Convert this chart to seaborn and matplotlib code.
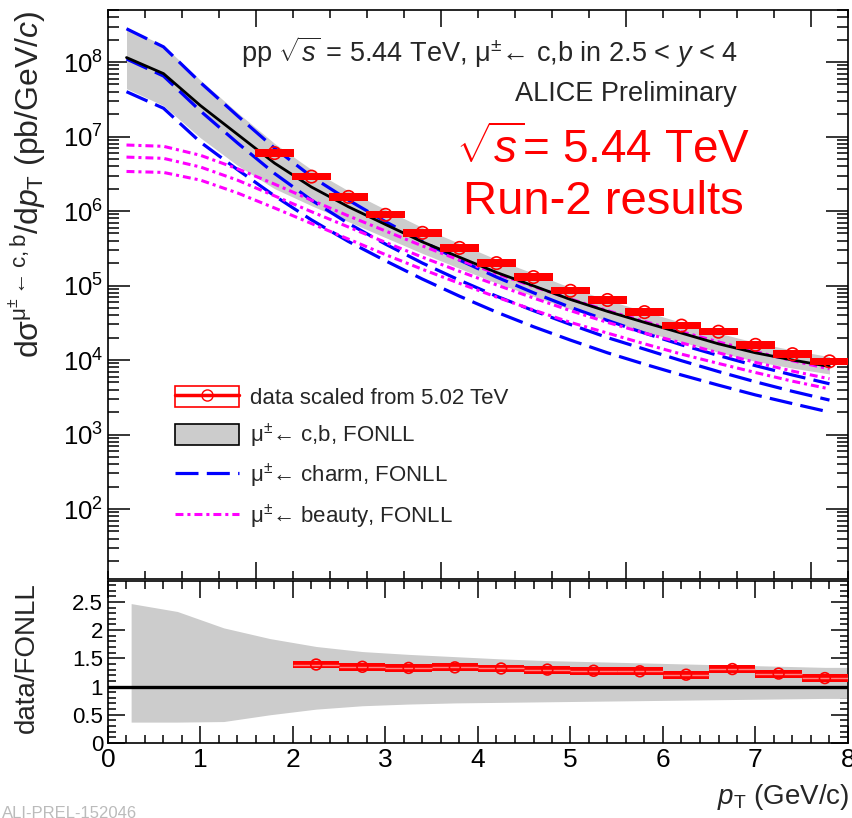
import numpy as np
import matplotlib
matplotlib.use("Agg")
import matplotlib.pyplot as plt
import seaborn as sns
from matplotlib.patches import Rectangle, Patch
from matplotlib.lines import Line2D
from matplotlib.ticker import MultipleLocator, LogLocator, NullFormatter, FixedLocator

# ---------------- data ----------------
# data points (top panel), pT bin centres and values (pb/GeV/c)
data_pt = [1.8, 2.2, 2.6, 3.0, 3.4, 3.8, 4.2, 4.6, 5.0, 5.4, 5.8, 6.2, 6.6, 7.0, 7.4, 7.8]
data_val = [6.0e6, 2.9e6, 1.55e6, 8.9e5, 5.1e5, 3.2e5, 2.0e5, 1.3e5, 8.5e4, 6.4e4,
            4.4e4, 2.9e4, 2.4e4, 1.6e4, 1.2e4, 9.6e3]
data_sys = [0.12] * 16

# FONLL theory grid (top panel)
th_pt = [0.2, 0.6, 1.0, 1.4, 1.8, 2.2, 2.6, 3.0, 3.4, 3.8,
         4.2, 4.6, 5.0, 5.4, 5.8, 6.2, 6.6, 7.0, 7.4, 7.8]
cb_central = [1.15e8, 7.0e7, 2.6e7, 1.07e7, 4.4e6, 2.1e6, 1.14e6, 6.6e5, 3.85e5, 2.4e5,
              1.5e5, 9.9e4, 6.5e4, 4.5e4, 3.2e4, 2.3e4, 1.65e4, 1.25e4, 1.0e4, 8.2e3]
cb_upper = [2.9e8, 1.67e8, 5.7e7, 2.1e7, 8.1e6, 3.6e6, 1.87e6, 1.05e6, 6.0e5, 3.67e5,
            2.24e5, 1.46e5, 9.4e4, 6.4e4, 4.5e4, 3.2e4, 2.3e4, 1.72e4, 1.36e4, 1.11e4]
cb_lower = [4.4e7, 2.6e7, 9.6e6, 4.1e6, 2.0e6, 1.18e6, 7.2e5, 4.4e5, 2.7e5, 1.7e5,
            1.08e5, 7.2e4, 4.8e4, 3.4e4, 2.4e4, 1.75e4, 1.27e4, 9.6e3, 7.8e3, 6.5e3]
charm_upper = [2.8e8, 1.6e8, 5.3e7, 1.9e7, 7.0e6, 2.9e6, 1.4e6, 7.2e5, 3.9e5, 2.2e5,
               1.3e5, 8.0e4, 5.1e4, 3.4e4, 2.3e4, 1.6e4, 1.15e4, 8.4e3, 6.3e3, 4.8e3]
charm_central = [1.1e8, 6.5e7, 2.2e7, 8.2e6, 3.2e6, 1.4e6, 6.8e5, 3.6e5, 2.0e5, 1.18e5,
                 7.2e4, 4.6e4, 3.0e4, 2.0e4, 1.4e4, 9.8e3, 7.0e3, 5.1e3, 3.8e3, 2.9e3]
charm_lower = [4.0e7, 2.4e7, 8.4e6, 3.6e6, 1.6e6, 7.6e5, 3.9e5, 2.15e5, 1.22e5, 7.2e4,
               4.4e4, 2.8e4, 1.85e4, 1.25e4, 8.8e3, 6.3e3, 4.6e3, 3.4e3, 2.6e3, 2.0e3]
beauty_upper = [7.7e6, 7.4e6, 5.6e6, 3.7e6, 2.3e6, 1.4e6, 8.6e5, 5.4e5, 3.4e5, 2.2e5,
                1.45e5, 9.7e4, 6.6e4, 4.6e4, 3.3e4, 2.4e4, 1.75e4, 1.3e4, 9.8e3, 7.6e3]
beauty_central = [5.3e6, 5.1e6, 3.9e6, 2.6e6, 1.6e6, 9.8e5, 6.1e5, 3.8e5, 2.4e5, 1.55e5,
                  1.02e5, 6.8e4, 4.6e4, 3.2e4, 2.3e4, 1.7e4, 1.25e4, 9.3e3, 7.1e3, 5.6e3]
beauty_lower = [3.4e6, 3.3e6, 2.6e6, 1.75e6, 1.1e6, 6.8e5, 4.2e5, 2.6e5, 1.65e5, 1.07e5,
                7.0e4, 4.7e4, 3.2e4, 2.3e4, 1.65e4, 1.2e4, 9.0e3, 6.8e3, 5.2e3, 4.1e3]

# ratio panel
ratio_pt = [2.25, 2.75, 3.25, 3.75, 4.25, 4.75, 5.25, 5.75, 6.25, 6.75, 7.25, 7.75]
ratio_val = [1.39, 1.35, 1.33, 1.34, 1.32, 1.30, 1.28, 1.27, 1.21, 1.31, 1.23, 1.15]
ratio_sys = [0.07] * 12
band_pt = [0.25, 0.75, 1.25, 1.75, 2.25, 2.75, 3.25, 3.75, 4.25, 4.75,
           5.25, 5.75, 6.25, 6.75, 7.25, 7.75, 8.0]
band_up = [2.47, 2.33, 2.04, 1.85, 1.71, 1.62, 1.57, 1.53, 1.49, 1.46,
           1.44, 1.42, 1.40, 1.38, 1.36, 1.34, 1.34]
band_lo = [0.37, 0.37, 0.38, 0.50, 0.60, 0.66, 0.69, 0.71, 0.72, 0.73,
           0.74, 0.75, 0.76, 0.77, 0.78, 0.79, 0.79]

xticks = [0, 1, 2, 3, 4, 5, 6, 7, 8]

# ---------------- style ----------------
sns.set_theme(style="ticks")
plt.rcParams["font.family"] = ["Liberation Sans", "DejaVu Sans"]
plt.rcParams["mathtext.fontset"] = "custom"
plt.rcParams["mathtext.rm"] = "Liberation Sans"
plt.rcParams["mathtext.it"] = "Liberation Sans:italic"
plt.rcParams["mathtext.bf"] = "Liberation Sans:bold"

RED = "#ff0000"
BLUE = "#0000ff"
MAG = "#ff00ff"
GREY = "#cccccc"
charm_ls = (0, (7.2, 2.6))
beauty_ls = (0, (2.6, 1.3, 1.0, 1.3))

fig = plt.figure(figsize=(8.53, 8.18), dpi=100)
W, H = 853, 818
L, R = 108, 848
ax = fig.add_axes([L / W, 1 - 579 / H, (R - L) / W, (579 - 10) / H])
axr = fig.add_axes([L / W, 1 - 743 / H, (R - L) / W, (743 - 581) / H])

# ---------------- top panel ----------------
ax.set_yscale("log")
ax.fill_between(th_pt, cb_lower, cb_upper, color=GREY, lw=0, zorder=1)
for arr in (charm_upper, charm_central, charm_lower):
    sns.lineplot(x=th_pt, y=arr, ax=ax, color=BLUE, lw=2.3, linestyle=charm_ls, zorder=3)
for arr in (beauty_upper, beauty_central, beauty_lower):
    sns.lineplot(x=th_pt, y=arr, ax=ax, color=MAG, lw=2.2, linestyle=beauty_ls, zorder=3)
sns.lineplot(x=th_pt, y=cb_central, ax=ax, color="black", lw=2.0, zorder=4)

dv = np.array(data_val)
ds = np.array(data_sys)
ax.bar(data_pt, dv * (1 + ds) - dv / (1 + ds), bottom=dv / (1 + ds), width=0.42,
       color=RED, lw=0, zorder=5)
sns.scatterplot(x=data_pt, y=data_val, ax=ax, marker="o", s=80, facecolor="none",
                edgecolor=RED, linewidth=1.2, zorder=6)

ax.set_xlim(0, 8)
ax.set_ylim(11.5, 5e8)
ax.xaxis.set_major_locator(FixedLocator([1.6, 3.6, 5.6, 7.6]))
ax.xaxis.set_minor_locator(MultipleLocator(0.4))
ax.xaxis.set_major_formatter(NullFormatter())
ax.yaxis.set_major_locator(LogLocator(base=10, numticks=20))
ax.yaxis.set_minor_locator(LogLocator(base=10, subs=np.arange(2, 10), numticks=20))
ax.yaxis.set_minor_formatter(NullFormatter())
ax.tick_params(axis="both", which="both", direction="in", top=True, right=True,
               colors="black", labelsize=18.5)
ax.tick_params(axis="y", which="major", length=16, width=1.1)
ax.tick_params(axis="y", which="minor", length=8, width=1.1)
ax.tick_params(axis="x", which="major", length=12, width=1.1)
ax.tick_params(axis="x", which="minor", length=6, width=1.1)
ax.tick_params(axis="x", labelbottom=False)
for s in ax.spines.values():
    s.set_linewidth(1.2)
    s.set_color("black")

fig.text(27 / W, 1 - 184 / H,
         r"dσ$^{\mathrm{μ}^{\pm}\leftarrow\mathrm{c,b}}$/d$p_{\mathrm{T}}$ (pb/GeV/$c$)",
         rotation=90, ha="center", va="center", fontsize=23)

fig.text(738 / W, 1 - 52 / H,
         r"pp $\sqrt{s}$ = 5.44 TeV, μ$^{\pm}$← c,b in 2.5 < $y$ < 4",
         ha="right", va="center", fontsize=19.5)
fig.text(737 / W, 1 - 94 / H, "ALICE Preliminary", ha="right", va="center",
         fontsize=19.5)
fig.text(603 / W, 1 - 150 / H, r"$\sqrt{s}$= 5.44 TeV", ha="center", va="center",
         fontsize=33, color=RED)
fig.text(603 / W, 1 - 202 / H, "Run-2 results", ha="center", va="center",
         fontsize=34, color=RED)

h_data = (Rectangle((0, 0), 1, 1, facecolor="none", edgecolor=RED, lw=1.2),
          Line2D([], [], color=RED, lw=2.5, marker="o", markersize=8,
                 markerfacecolor="none", markeredgecolor=RED))
h_band = Patch(facecolor=GREY, edgecolor="black", lw=1.2)
h_charm = Line2D([], [], color=BLUE, lw=2.3, linestyle=charm_ls)
h_beauty = Line2D([], [], color=MAG, lw=2.2, linestyle=beauty_ls)
ax.legend([h_data, h_band, h_charm, h_beauty],
          ["data scaled from 5.02 TeV", "μ$^{\\pm}$← c,b, FONLL",
           "μ$^{\\pm}$← charm, FONLL", "μ$^{\\pm}$← beauty, FONLL"],
          loc="upper left", bbox_to_anchor=(0.078, 0.355), frameon=False, fontsize=16,
          handlelength=2.9, handleheight=1.1, labelspacing=0.55, handletextpad=0.5,
          borderaxespad=0.0)

# ---------------- ratio panel ----------------
axr.fill_between(band_pt, band_lo, band_up, color=GREY, lw=0, zorder=1)
axr.axhline(1.0, color="black", lw=2.4, zorder=2)
rv = np.array(ratio_val)
rs = np.array(ratio_sys)
axr.bar(ratio_pt, 2 * rs, bottom=rv - rs, width=0.5, color=RED, lw=0, zorder=3)
axr.errorbar(ratio_pt, ratio_val, xerr=0.25, fmt="none", ecolor="#ff8080", lw=1, zorder=4)
sns.scatterplot(x=ratio_pt, y=ratio_val, ax=axr, marker="o", s=60, facecolor="none",
                edgecolor=RED, linewidth=1.2, zorder=5)
axr.set_xlim(0, 8)
axr.set_ylim(0, 2.87)
axr.set_xticks(xticks)
axr.set_xticklabels([str(t) for t in xticks])
axr.xaxis.set_minor_locator(MultipleLocator(0.2))
axr.yaxis.set_major_locator(FixedLocator([0, 0.5, 1, 1.5, 2, 2.5]))
axr.set_yticklabels(["0", "0.5", "1", "1.5", "2", "2.5"])
axr.yaxis.set_minor_locator(MultipleLocator(0.1))
axr.tick_params(axis="both", which="both", direction="in", top=True, right=True,
                colors="black")
axr.tick_params(axis="x", labelsize=19)
axr.tick_params(axis="y", labelsize=16)
axr.tick_params(axis="both", which="major", length=12, width=1.1)
axr.tick_params(axis="both", which="minor", length=6, width=1.1)
for s in axr.spines.values():
    s.set_linewidth(1.2)
    s.set_color("black")
fig.text(27 / W, 1 - 658 / H, "data/FONLL", rotation=90, ha="center", va="center",
         fontsize=20)
fig.text(849 / W, 1 - 797 / H, r"$p_{\mathrm{T}}$ (GeV/c)", ha="right", va="center",
         fontsize=20)

fig.text(2 / W, 1 - 813 / H, "ALI-PREL-152046", fontsize=12, color="#bbbbbb",
         ha="left", va="center")

fig.savefig("out.png", dpi=100)
